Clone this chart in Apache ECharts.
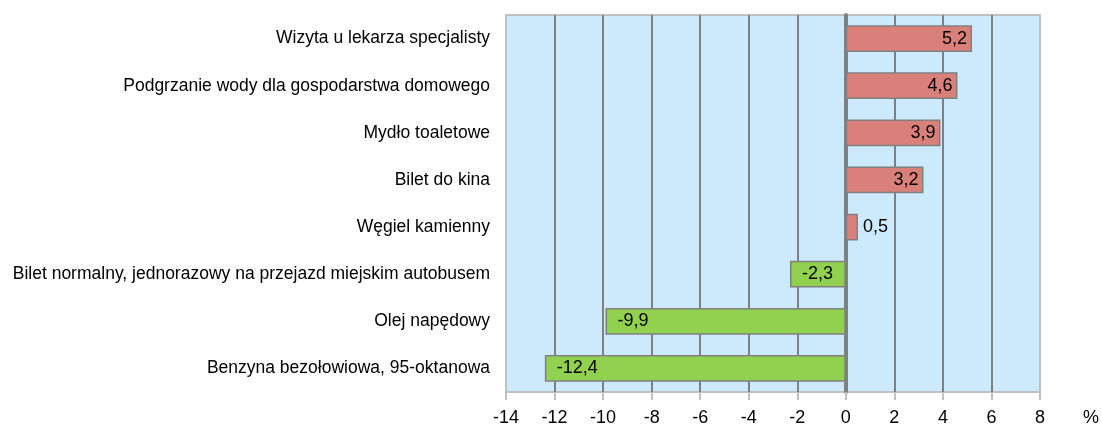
<!DOCTYPE html>
<html>
<head>
<meta charset="utf-8">
<script src="https://cdn.jsdelivr.net/npm/echarts@6/dist/echarts.min.js"></script>
<style>
  html, body { margin: 0; padding: 0; background: #fff; }
  #chart { width: 1102px; height: 428px; }
</style>
</head>
<body>
<div id="chart"></div>
<script>
  // kategorie od góry do dołu
  const categories = [
    "Wizyta u lekarza specjalisty",
    "Podgrzanie wody dla gospodarstwa domowego",
    "Mydło toaletowe",
    "Bilet do kina",
    "Węgiel kamienny",
    "Bilet normalny, jednorazowy na przejazd miejskim autobusem",
    "Olej napędowy",
    "Benzyna bezołowiowa, 95-oktanowa"
  ]
  const values = [5.2, 4.6, 3.9, 3.2, 0.5, -2.3, -9.9, -12.4]
  const xTicks = { min: -14, max: 8, interval: 2 }

  const font = "Liberation Sans"
  const fmt = (v) => String(v).replace(".", ",")

  const barData = values.map((v) => {
    const pos = v < 0 ? "insideLeft" : v < 1 ? "right" : "insideRight"
    return {
      value: v,
      itemStyle: { color: v < 0 ? "#92d050" : "#d9807b" },
      label: { position: pos, distance: v < 0 ? 12 : 5 },
    }
  })

  const option = {
    animation: false,
    backgroundColor: "#fff",
    grid: {
      left: 506,
      right: 58,
      top: 15,
      bottom: 36,
      show: true,
      backgroundColor: "#cdeafd",
      borderColor: "#c0c0c0",
      borderWidth: 2,
    },
    xAxis: {
      type: "value",
      min: xTicks.min,
      max: xTicks.max,
      interval: xTicks.interval,
      name: "%",
      nameLocation: "end",
      nameGap: 43,
      nameTextStyle: {
        fontFamily: font,
        fontSize: 18,
        color: "#000",
        verticalAlign: "top",
        padding: [17, 0, 0, 0],
      },
      axisLine: { show: false },
      axisTick: { show: true, length: 8, lineStyle: { color: "#c0c0c0", width: 2 } },
      axisLabel: {
        fontFamily: font,
        fontSize: 18,
        color: "#000",
        margin: 17,
      },
      splitLine: {
        show: true,
        showMinLine: false,
        showMaxLine: false,
        lineStyle: { color: "#808080", width: 2 },
      },
    },
    yAxis: {
      type: "category",
      data: categories,
      inverse: true,
      axisLine: { show: true, onZero: true, lineStyle: { color: "#808080", width: 4 } },
      axisTick: { show: false },
      axisLabel: {
        fontFamily: font,
        fontSize: 17.5,
        color: "#000",
        margin: 16,
      },
      splitLine: { show: false },
    },
    series: [
      {
        type: "bar",
        data: barData,
        barWidth: "57%",
        itemStyle: { borderColor: "#808080", borderWidth: 1.5 },
        label: {
          show: true,
          fontFamily: font,
          fontSize: 18,
          color: "#000",
          formatter: (p) => fmt(p.value),
        },
        z: 1,
      },
    ],
  }

  const myChart = echarts.init(document.getElementById("chart"))
  myChart.setOption(option)
</script>
</body>
</html>
